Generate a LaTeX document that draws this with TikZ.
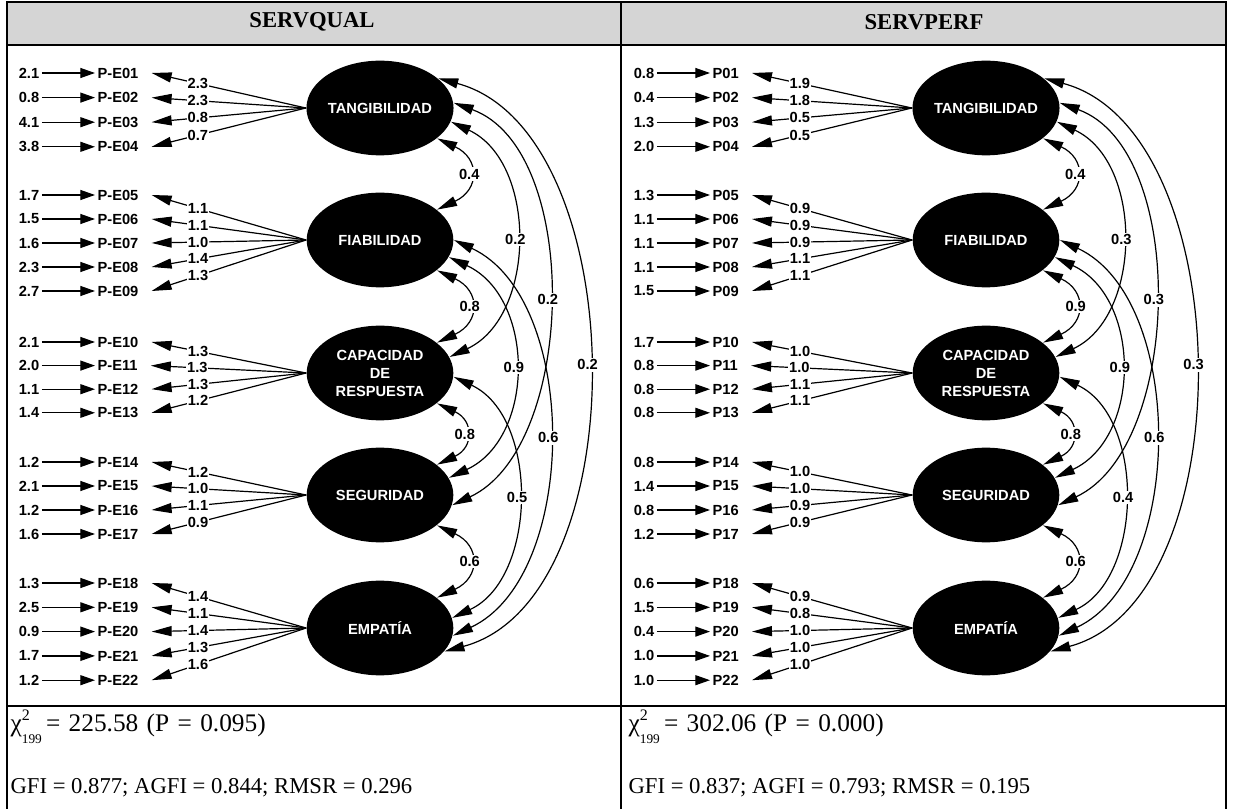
\documentclass[tikz,border=0pt]{standalone}
\usepackage{fontspec}
\setmainfont{Liberation Serif}
\setsansfont{Liberation Sans}
\usetikzlibrary{arrows.meta,shapes.geometric}

\tikzset{
  lab/.style={font=\sffamily\bfseries\fontsize{11}{13.5}\selectfont},
  latent/.style={lab, ellipse, fill=black, text=white, align=center,
    minimum width=110pt, minimum height=71pt, inner sep=0pt},
  errval/.style={lab, inner sep=1.5pt},
  item/.style={lab, inner sep=1.5pt, anchor=west},
  loadlbl/.style={lab, fill=white, inner sep=0.6pt},
  covlbl/.style={lab, fill=white, inner sep=1.2pt},
  smallhead/.style={-{Triangle[length=11pt,width=7.5pt]}},
  bighead/.style={-{Triangle[length=15pt,width=7.5pt]}},
  cov/.style={{Triangle[length=15pt,width=7.5pt]}-{Triangle[length=15pt,width=7.5pt]}},
  near/.style={cov, out=-25, in=25, looseness=1.7},
  rule/.style={line width=1.5pt},
  title/.style={font=\bfseries\fontsize{17}{20}\selectfont},
  stat/.style={font=\fontsize{17}{20}\selectfont, anchor=west, inner sep=0pt},
  chistat/.style={font=\fontsize{19}{22}\selectfont, anchor=west, inner sep=0pt}
}

% one block of indicators
% #1 latent node, #2 x of the error values, #3 first row, #4 row step, #5 value/item/loading
\newcommand{\Indicators}[5]{%
  \foreach \e/\p/\l [count=\i] in {#5} {
    \node[errval] (#1e\i) at (#2, {-(#3+(\i-1)*#4)}) {\e};
    \node[item] (#1i\i) at ({#2+66}, {-(#3+(\i-1)*#4)}) {\p};
    \coordinate (#1t\i) at ([xshift=8pt]#1i\i.east);
    \draw[smallhead] (#1e\i) -- (#1i\i);
    \draw[bighead] (#1.west) -- node[loadlbl, pos=0.7] {\l} (#1t\i);
  }
}
% chi square with its degrees of freedom
\newcommand{\ChiSq}{χ\rlap{\raisebox{.9ex}{\fontsize{12}{12}\selectfont 2}}\raisebox{-1.1ex}{\fontsize{10}{10}\selectfont 199}}
\newcommand{\Sp}{\hspace{.33em}}

\begin{document}
\begin{tikzpicture}[x=0.75pt, y=0.75pt, line width=0.9pt]
  \useasboundingbox (0,0) rectangle (1233,-809);

  % table: grey header, frame and rules
  \fill[gray!33] (7,-2) rectangle (1226,-45);
  \draw[rule] (7,-809) -- (7,-2) -- (1226,-2) -- (1226,-809);
  \draw[rule] (7,-45) -- (1226,-45);
  \draw[rule] (7,-706) -- (1226,-706);
  \draw[rule] (621,-2) -- (621,-809);
  \node[title] (headA) at (312,-22) {SERVQUAL};
  \node[title] (headB) at (924,-22) {SERVPERF};

  % latent factors of both models
  \foreach \m/\x in {A/380, B/986} {
    \node[latent] (tan\m) at (\x,-108) {TANGIBILIDAD};
    \node[latent] (fia\m) at (\x,-240) {FIABILIDAD};
    \node[latent] (cap\m) at (\x,-373) {CAPACIDAD\\DE\\RESPUESTA};
    \node[latent] (seg\m) at (\x,-495) {SEGURIDAD};
    \node[latent] (emp\m) at (\x,-628) {EMPATÍA};
  }

  % SERVQUAL indicators
  \Indicators{tanA}{29}{73}{24.6}{2.1/P-E01/2.3, 0.8/P-E02/2.3, 4.1/P-E03/0.8, 3.8/P-E04/0.7}
  \Indicators{fiaA}{29}{195}{24}{1.7/P-E05/1.1, 1.5/P-E06/1.1, 1.6/P-E07/1.0, 2.3/P-E08/1.4, 2.7/P-E09/1.3}
  \Indicators{capA}{29}{342}{23.6}{2.1/P-E10/1.3, 2.0/P-E11/1.3, 1.1/P-E12/1.3, 1.4/P-E13/1.2}
  \Indicators{segA}{29}{462}{24}{1.2/P-E14/1.2, 2.1/P-E15/1.0, 1.2/P-E16/1.1, 1.6/P-E17/0.9}
  \Indicators{empA}{29}{583}{24.3}{1.3/P-E18/1.4, 2.5/P-E19/1.1, 0.9/P-E20/1.4, 1.7/P-E21/1.3, 1.2/P-E22/1.6}

  % SERVPERF indicators
  \Indicators{tanB}{644}{73}{24.6}{0.8/P01/1.9, 0.4/P02/1.8, 1.3/P03/0.5, 2.0/P04/0.5}
  \Indicators{fiaB}{644}{195}{24}{1.3/P05/0.9, 1.1/P06/0.9, 1.1/P07/0.9, 1.1/P08/1.1, 1.5/P09/1.1}
  \Indicators{capB}{644}{342}{23.6}{1.7/P10/1.0, 0.8/P11/1.0, 0.8/P12/1.1, 0.8/P13/1.1}
  \Indicators{segB}{644}{462}{24}{0.8/P14/1.0, 1.4/P15/1.0, 0.8/P16/0.9, 1.2/P17/0.9}
  \Indicators{empB}{644}{583}{24.3}{0.6/P18/0.9, 1.5/P19/0.8, 0.4/P20/1.0, 1.0/P21/1.0, 1.0/P22/1.0}

  % correlations between the factors
  \foreach \m/\ra/\rb/\rc/\rd/\re/\rf/\rg/\rh/\ri/\rj in
      {A/0.4/0.8/0.8/0.6/0.2/0.2/0.2/0.9/0.6/0.5,
       B/0.4/0.9/0.8/0.6/0.3/0.3/0.3/0.9/0.6/0.4} {
    % neighbours
    \draw[near] (tan\m.-28) to node[covlbl] {\ra} (fia\m.28);
    \draw[near] (fia\m.-28) to node[covlbl] {\rb} (cap\m.28);
    \draw[near] (cap\m.-28) to node[covlbl] {\rc} (seg\m.28);
    \draw[near] (seg\m.-28) to node[covlbl] {\rd} (emp\m.28);
    % factors further apart
    \draw[cov] (tan\m.-11) to[out=-25, in=25, looseness=1.04] node[covlbl] {\re} (cap\m.13);
    \draw[cov] (tan\m.4) to[out=-20, in=25, looseness=0.87] node[covlbl] {\rf} (seg\m.-8);
    \draw[cov] (tan\m.27) to[out=-15, in=15, looseness=0.9] node[covlbl] {\rg} (emp\m.-20);
    \draw[cov] (fia\m.-14) to[out=-25, in=25, looseness=1.11] node[covlbl] {\rh} (seg\m.14);
    \draw[cov] (fia\m.0) to[out=-25, in=25, looseness=0.9] node[covlbl] {\ri} (emp\m.-6);
    \draw[cov] (cap\m.-3) to[out=-25, in=25, looseness=1.0] node[covlbl] {\rj} (emp\m.8);
  }

  % fit statistics
  \node[chistat] (chiA) at (10,-727) {\ChiSq\,=\Sp225.58\Sp(P\Sp=\Sp0.095)};
  \node[stat] (fitA) at (10,-788) {GFI = 0.877; AGFI = 0.844; RMSR = 0.296};
  \node[chistat] (chiB) at (628,-727) {\ChiSq\,=\Sp302.06\Sp(P\Sp=\Sp0.000)};
  \node[stat] (fitB) at (628,-788) {GFI = 0.837; AGFI = 0.793; RMSR = 0.195};
\end{tikzpicture}
\end{document}
